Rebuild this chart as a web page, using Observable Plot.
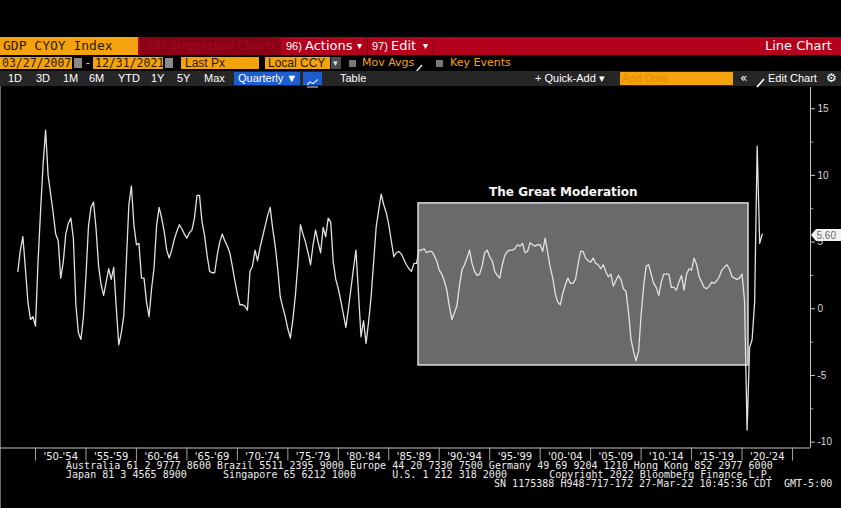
<!DOCTYPE html>
<html><head><meta charset="utf-8">
<script src="https://cdn.jsdelivr.net/npm/d3@7"></script>
<script src="https://cdn.jsdelivr.net/npm/@observablehq/plot@0.6"></script>
<style>
html,body{margin:0;padding:0;background:#000;}
#page{position:relative;width:841px;height:508px;overflow:hidden;background:#000;font-family:"DejaVu Sans",sans-serif;}
.a{position:absolute;white-space:pre;}
</style></head>
<body><div id="page"></div>
<script>
// ---- Data: US real GDP, % change year over year (GDP CYOY Index), quarterly from 1948 Q1 ----
const firstYear = 1948;
const gdp1940s = [2.8, 4.4, 5.4, 3.0,  0.5, -0.8, -0.6, -1.3];
const gdp1950s = [3.5, 7.3, 10.8, 13.4,  10.0, 8.6, 7.2, 5.6,  5.1, 2.3, 3.5, 5.6,  6.4, 6.8, 5.3, 0.3,
                  -1.8, -2.3, -0.6, 2.5,  6.2, 7.6, 8.0, 6.0,  3.2, 1.8, 1.0, 2.0,  3.0, 2.2, 3.1, 0.1,
                  -2.7, -1.8, -0.5, 3.5,  7.8, 9.2, 6.3, 4.8];
const gdp1960s = [4.9, 2.3, 2.3, 0.5,  -0.6, 1.5, 3.1, 6.3,  7.6, 6.8, 5.8, 4.4,  3.8, 4.4, 5.2, 5.8,
                  6.3, 6.0, 5.6, 5.3,  5.7, 5.9, 6.8, 8.5,  8.5, 6.5, 5.5, 4.0,  2.8, 2.7, 2.7, 4.0,
                  5.0, 5.6, 5.1, 4.7,  4.2, 3.2, 2.1, 1.1];
const gdp1970s = [0.3, 0.3, 0.2, -0.1,  2.8, 3.2, 4.4, 3.6,  4.6, 5.4, 6.2, 7.0,  7.6, 6.0, 4.7, 3.0,
                  0.9, 0.1, -0.6, -1.5,  -2.2, -0.8, 1.0, 3.4,  6.3, 5.6, 5.0, 4.2,  3.3, 4.8, 5.9, 5.0,
                  4.2, 6.1, 5.4, 6.8,  6.5, 3.5, 2.2, 1.5];
const gdp1980s = [0.6, -0.4, -1.4, 0.0,  1.5, 3.0, 4.4, 1.2,  -2.1, -0.9, -2.6, -1.0,  0.9, 3.5, 6.1, 7.4,
                  8.6, 7.8, 7.2, 6.3,  5.1, 3.9, 4.2, 4.3,  4.1, 3.7, 3.3, 3.0,  2.8, 3.4, 3.4, 4.4,
                  4.4, 4.5, 4.2, 4.3,  4.3, 4.0, 3.6, 2.9];
const gdp1990s = [2.6, 2.1, 1.4, 0.2,  -0.8, -0.3, 0.2, 1.7,  2.9, 3.3, 3.8, 4.4,  3.4, 2.8, 2.5, 2.6,
                  3.2, 4.2, 4.4, 3.9,  3.6, 2.8, 2.5, 2.3,  3.3, 4.0, 4.3, 4.4,  4.4, 4.5, 4.8, 4.7,
                  4.9, 4.2, 4.3, 4.95,  4.8, 4.7, 4.8, 4.8];
const gdp2000s = [4.3, 5.3, 4.2, 3.1,  2.3, 1.1, 0.5, 0.3,  1.2, 1.8, 2.3, 1.9,  1.9, 2.2, 3.3, 4.3,
                  4.3, 3.8, 3.6, 3.5,  3.8, 3.4, 3.3, 3.0,  3.3, 2.8, 2.4, 2.6,  1.7, 2.1, 2.5, 2.2,
                  1.5, 1.3, -0.2, -2.3,  -3.2, -3.9, -3.2, -0.5];
const gdp2010s = [1.7, 3.2, 3.3, 2.6,  1.9, 1.6, 1.0, 2.0,  2.6, 2.6, 2.6, 1.6,  1.6, 1.4, 2.0, 2.5,
                  1.4, 2.6, 3.0, 2.9,  3.8, 3.3, 2.4, 2.0,  1.6, 1.5, 1.7, 2.0,  1.9, 2.1, 2.4, 2.9,
                  3.1, 3.3, 3.0, 2.4,  2.3, 2.2, 2.3, 2.6];
const gdp2020s = [0.6, -9.1, -2.9, -2.3,  0.5, 12.2, 4.9, 5.6];

// x-axis period bands
const periodStarts = [1950,1955,1960,1965,1970,1975,1980,1985,1990,1995,2000,2005,2010,2015,2020];
const periodLabels = ["'50-'54","'55-'59","'60-'64","'65-'69","'70-'74","'75-'79","'80-'84","'85-'89",
                      "'90-'94","'95-'99","'00-'04","'05-'09","'10-'14","'15-'19","'20-'24"];
const bandEnd = 2025;
// y-axis ticks
const yMajor = [-10, -5, 0, 5, 10, 15];
const yMinor = [-7.5, -2.5, 2.5, 7.5, 12.5];
// annotation
const moderation = [{start: 1987.95, end: 2020.64, low: -4.25, high: 7.9, label: "The Great Moderation", mid: 2002.3, labelAt: 8.75}];
const lastValueText = "5.60";

// ---- page chrome (Bloomberg toolbar) ----
const page = document.getElementById("page");
function div(l, t, w, h, bg, extra) {
  const d = document.createElement("div"); d.className = "a";
  Object.assign(d.style, {left: l + "px", top: t + "px", width: w + "px", height: h + "px", background: bg}, extra || {});
  page.appendChild(d); return d;
}
function txt(l, t, s, size, color, h, fam, extra) {
  const d = document.createElement("div"); d.className = "a";
  Object.assign(d.style, {left: l + "px", top: t + "px", fontSize: size + "px", color: color,
    lineHeight: h + "px", height: h + "px", fontFamily: fam || "'DejaVu Sans', sans-serif"}, extra || {});
  d.textContent = s; page.appendChild(d); return d;
}
function svgIcon(l, t, w, h, inner) {
  const d = document.createElement("div"); d.className = "a";
  Object.assign(d.style, {left: l + "px", top: t + "px", width: w + "px", height: h + "px"});
  d.innerHTML = `<svg width="${w}" height="${h}" viewBox="0 0 ${w} ${h}">${inner}</svg>`;
  page.appendChild(d); return d;
}
const ORANGE = "#f4a20e", DARK = "#2e1c00", RED = "#b3001b";
const MONO = "'DejaVu Sans Mono', monospace", SANS = "'DejaVu Sans', sans-serif", LIB = "'Liberation Sans', Arial, sans-serif";

// Row 1
div(0, 37, 841, 18, RED);
div(0, 37, 138, 18, ORANGE);
txt(3, 37, "GDP CYOY Index", 13, DARK, 18, MONO);
div(140, 37, 141, 18, "#8c0016");
txt(146, 37, "98) Suggested Charts", 12, "#9c0c22", 18, SANS);
txt(286, 37, "96)", 11, "#fff", 18, LIB);
txt(305, 37, "Actions", 13, "#fff", 18, SANS);
txt(357, 37, "▾", 10, "#fff", 18, SANS);
div(367, 37, 1, 18, "#6d000f");
txt(372, 37, "97)", 11, "#fff", 18, LIB);
txt(391, 37, "Edit", 13, "#fff", 18, SANS);
txt(423, 37, "▾", 10, "#fff", 18, SANS);
div(433, 37, 1, 18, "#6d000f");
txt(765, 37, "Line Chart", 13, "#fff", 18, SANS);

// Row 2
div(0, 57, 72, 12, ORANGE);
txt(2, 57, "03/27/2007", 11.5, DARK, 12, MONO);
div(74, 58, 8, 10, "#8a8a8a");
txt(86, 57, "-", 11, "#ddd", 12, SANS);
div(93, 57, 70, 12, ORANGE);
txt(95, 57, "12/31/2021", 11.5, DARK, 12, MONO);
div(165, 58, 8, 10, "#8a8a8a");
div(181, 57, 78, 12, ORANGE);
txt(185, 57, "Last Px", 12, DARK, 12, LIB);
div(265, 57, 65, 12, ORANGE);
txt(268, 57, "Local CCY", 12, DARK, 12, LIB);
div(331, 57, 10, 12, "#4a4a4a");
txt(333, 57, "▾", 9, "#ddd", 12, SANS);
div(349, 60, 7, 7, "#777");
txt(362, 57, "Mov Avgs", 11, "#f2a20e", 12, SANS);
svgIcon(415, 58, 8, 10, `<line x1="1" y1="9" x2="7" y2="2" stroke="#ddd" stroke-width="1.6"/>`);
div(436, 60, 7, 7, "#777");
txt(450, 57, "Key Events", 11, "#f2a20e", 12, SANS);

// Row 3
div(0, 71, 841, 15, "#262626");
const rng = [["1D", 8], ["3D", 36], ["1M", 63], ["6M", 89], ["YTD", 118], ["1Y", 151], ["5Y", 177], ["Max", 204]];
for (const [s, x] of rng) txt(x, 71, s, 11, "#fff", 15, LIB);
div(234, 72, 66, 13, "#1c5dcf");
txt(238, 71, "Quarterly ▼", 11, "#fff", 15, LIB);
div(303, 72, 19, 13, "#1c5dcf");
svgIcon(305, 73, 15, 11, `<polyline points="2,8 5,5 8,6.5 13,2.5" fill="none" stroke="#cfe0ff" stroke-width="1.2"/><line x1="2" y1="10" x2="13" y2="10" stroke="#cfe0ff" stroke-width="1"/>`);
txt(340, 71, "Table", 11, "#fff", 15, LIB);
txt(535, 71, "+ Quick-Add ▾", 11, "#fff", 15, LIB);
div(620, 72, 113, 13, ORANGE);
txt(622, 71, "Add Data", 11, "#e88a00", 15, LIB);
txt(740, 71, "«", 12, "#fff", 15, SANS);
svgIcon(756, 73, 9, 11, `<line x1="1" y1="10" x2="8" y2="2" stroke="#fff" stroke-width="1.6"/>`);
txt(768, 71, "Edit Chart", 11, "#fff", 15, LIB);
txt(826, 71, "⚙", 12, "#fff", 15, SANS);

// left window border
div(0, 86, 1, 422, "#6a6a6a");

// ---- chart ----
const values = [...gdp1940s, ...gdp1950s, ...gdp1960s, ...gdp1970s, ...gdp1980s, ...gdp1990s, ...gdp2000s, ...gdp2010s, ...gdp2020s];
const series = values.map((v, i) => ({t: firstYear + (i + 1) / 4, v}));
const separators = [...periodStarts, bandEnd];
const centers = periodStarts.map(s => s + 2.5);
const xDomain = [1946.532, 2026.784];
const yDomain = [-10.44, 16.59];

const chart = Plot.plot({
  width: 841, height: 378,
  marginTop: 1, marginBottom: 16.5, marginLeft: 0, marginRight: 31,
  style: {background: "transparent", color: "#d0d0d0", fontFamily: "'DejaVu Sans', sans-serif", overflow: "visible"},
  x: {domain: xDomain, label: null},
  y: {domain: yDomain, label: null},
  marks: [
    Plot.rect(moderation, {x1: "start", x2: "end", y1: "low", y2: "high", fill: "#6c696d", stroke: "#d2d2d2", strokeWidth: 1.6}),
    Plot.text(moderation, {x: "mid", y: "labelAt", text: "label", fill: "#f5f5f5", fontWeight: "bold", fontSize: 12,
      fontFamily: "'DejaVu Sans', sans-serif", lineAnchor: "middle"}),
    Plot.ruleY([yDomain[0]], {stroke: "#c4c4c4", strokeWidth: 1}),
    Plot.ruleX([xDomain[1]], {stroke: "#c4c4c4", strokeWidth: 1}),
    Plot.axisX(separators, {anchor: "bottom", tickSize: 13, tickFormat: () => "", stroke: "#a0a0a0", label: null}),
    Plot.axisX(centers, {anchor: "bottom", tickSize: 0, tickPadding: 5, label: null,
      tickFormat: d => periodLabels[periodStarts.indexOf(d - 2.5)], fill: "#f0f0f0", fontSize: 10,
      fontFamily: "'DejaVu Sans', sans-serif"}),
    Plot.axisY(yMajor, {anchor: "right", tickSize: 4, tickPadding: 3, label: null, tickFormat: d => String(d),
      stroke: "#c4c4c4", fill: "#d8d8d8", fontSize: 10, fontFamily: "'Liberation Sans', Arial, sans-serif"}),
    Plot.axisY(yMinor, {anchor: "right", tickSize: 2.5, label: null, tickFormat: () => "", stroke: "#9a9a9a"}),
    Plot.line(series, {x: "t", y: "v", stroke: "#e2e2e2", strokeWidth: 1.3})
  ]
});
const holder = document.createElement("div"); holder.className = "a";
Object.assign(holder.style, {left: "0px", top: "86px"});
holder.appendChild(chart);
page.appendChild(holder);

// last value tag
const yLast = 86 + chart.scale("y").apply(values[values.length - 1]);
svgIcon(810, Math.round(yLast) - 7, 31, 14,
  `<polygon points="1,7 6,1 31,1 31,13 6,13" fill="#f2f2f2"/><text x="6.5" y="10.5" font-family="Liberation Sans, Arial, sans-serif" font-size="10" fill="#6a6a6a">${lastValueText}</text>`);

// footer
const F = "#ececec";
txt(66, 461, "Australia 61 2 9777 8600 Brazil 5511 2395 9000 Europe 44 20 7330 7500 Germany 49 69 9204 1210 Hong Kong 852 2977 6000", 10, F, 9, MONO, {letterSpacing: "0.02px"});
txt(66, 470, "Japan 81 3 4565 8900      Singapore 65 6212 1000      U.S. 1 212 318 2000       Copyright 2022 Bloomberg Finance L.P.", 10, F, 9, MONO, {letterSpacing: "0.02px"});
txt(494, 479, "SN 1175388 H948-717-172 27-Mar-22 10:45:36 CDT  GMT-5:00", 10, F, 9, MONO, {letterSpacing: "0.02px"});
</script>
</body></html>
